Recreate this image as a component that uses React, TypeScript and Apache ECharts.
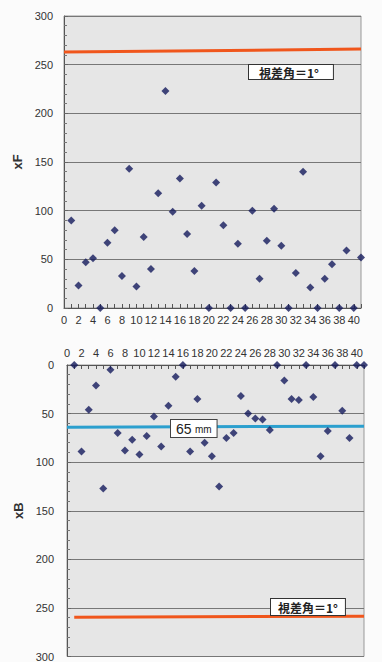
import React, { useEffect, useRef } from 'react';
import * as echarts from 'echarts';

const sampleNo = [1, 2, 3, 4, 5, 6, 7, 8, 9, 10, 11, 12, 13, 14, 15, 16, 17, 18, 19, 20, 21, 22, 23, 24, 25, 26, 27, 28, 29, 30, 31, 32, 33, 34, 35, 36, 37, 38, 39, 40, 41];
const xF = [90, 23, 47, 51, 0, 67, 80, 33, 143, 22, 73, 40, 118, 223, 99, 133, 76, 38, 105, 0, 129, 85, 0, 66, 0, 100, 30, 69, 102, 64, 0, 36, 140, 21, 0, 30, 45, 0, 59, 0, 52];
const xB = [0, 89, 46, 21, 127, 5, 70, 88, 77, 92, 73, 53, 84, 42, 12, 0, 89, 35, 80, 94, 125, 75, 70, 32, 50, 55, 56, 67, 0, 16, 35, 36, 0, 33, 94, 68, 0, 47, 75, 0, 0];
const parallaxLineF = [[0, 263], [41, 266]];
const parallaxLineB = [[1, 259.5], [41, 258.5]];
const mmLineB = [[0, 64], [41, 63]];
const parallaxLabel = '視差角＝1°';
const mmValue = '65';
const mmUnit = 'mm';

const FONT = '"Liberation Sans", Arial, sans-serif';
const CJK = '"Noto Sans CJK JP", sans-serif';

export default function App() {
  const ref = useRef<HTMLDivElement>(null);
  useEffect(() => {
    if (!ref.current) return;
    const chart = echarts.init(ref.current, undefined, { renderer: 'svg' });
    const xAxisBase = (gridIndex: number, position: 'top' | 'bottom') => ({
      type: 'value' as const,
      gridIndex,
      position,
      min: 0,
      max: 41,
      interval: 2,
      axisLine: { show: true, onZero: false, lineStyle: { color: '#555', width: 1 } },
      axisTick: { show: true, inside: true, length: 4, lineStyle: { color: '#555' } },
      minorTick: { show: true, splitNumber: 2, length: 4, lineStyle: { color: '#555' } },
      splitLine: { show: false },
      axisLabel: {
        color: '#333',
        fontFamily: FONT,
        fontSize: 11,
        margin: position === 'top' ? 7 : 6,
        showMaxLabel: false,
        formatter: (v: number) => (v % 2 === 0 ? String(v) : ''),
      },
    });
    const yAxisBase = (gridIndex: number, name: string, inverse: boolean, nameGap: number, margin: number) => ({
      type: 'value' as const,
      gridIndex,
      inverse,
      min: 0,
      max: 300,
      interval: 50,
      name,
      nameLocation: 'middle' as const,
      nameGap,
      nameRotate: 90,
      nameTextStyle: { color: '#333', fontFamily: FONT, fontSize: 13, fontWeight: 'bold' as const },
      axisLine: { show: true, lineStyle: { color: '#555', width: 1 } },
      axisTick: { show: true, inside: true, length: 4, lineStyle: { color: '#666' } },
      minorTick: { show: true, splitNumber: 5, length: 3, lineStyle: { color: '#777' } },
      splitLine: { show: true, lineStyle: { color: '#777', width: 1 } },
      axisLabel: { color: '#333', fontFamily: FONT, fontSize: 11, margin },
    });
    const scatterStyle = {
      type: 'scatter' as const,
      symbol: 'diamond',
      symbolSize: 8,
      clip: false,
      itemStyle: { color: '#141a5c' },
      z: 5,
    };
    const refLine = (xi: number, data: number[][], color: string) => ({
      type: 'line' as const,
      xAxisIndex: xi,
      yAxisIndex: xi,
      data,
      symbol: 'none',
      lineStyle: { color, width: 3 },
      z: 4,
    });
    chart.setOption({
      animation: false,
      backgroundColor: '#fbfbfb',
      grid: [
        { left: 64, top: 16, width: 297, height: 292, show: true, backgroundColor: '#e6e6e6', borderColor: '#999', borderWidth: 1 },
        { left: 67, top: 365, width: 297, height: 294, show: true, backgroundColor: '#e6e6e6', borderColor: '#999', borderWidth: 1 },
      ],
      xAxis: [xAxisBase(0, 'bottom'), xAxisBase(1, 'top')],
      yAxis: [yAxisBase(0, 'xF', false, 32, 11), yAxisBase(1, 'xB', true, 40, 13)],
      series: [
        refLine(0, parallaxLineF, '#f0561c'),
        refLine(1, parallaxLineB, '#f0561c'),
        refLine(1, mmLineB, '#2b9fce'),
        { ...scatterStyle, xAxisIndex: 0, yAxisIndex: 0, data: sampleNo.map((n, i) => [n, xF[i]]) },
        { ...scatterStyle, xAxisIndex: 1, yAxisIndex: 1, data: sampleNo.map((n, i) => [n, xB[i]]) },
      ],
      graphic: [
        {
          type: 'text',
          left: 248,
          top: 64,
          z: 10,
          style: {
            text: parallaxLabel,
            fill: '#222',
            font: `bold 12px ${CJK}`,
            lineHeight: 14,
            backgroundColor: '#fff',
            borderColor: '#333',
            borderWidth: 1,
            padding: [0, 14, 0, 10],
          },
        },
        {
          type: 'text',
          left: 270,
          top: 598,
          z: 10,
          style: {
            text: parallaxLabel,
            fill: '#222',
            font: `bold 12px ${CJK}`,
            lineHeight: 16,
            backgroundColor: '#fff',
            borderColor: '#333',
            borderWidth: 1,
            padding: [0, 7, 0, 7],
          },
        },
        {
          type: 'text',
          left: 170,
          top: 419,
          z: 10,
          style: {
            text: `{a|${mmValue}} {b|${mmUnit}}`,
            backgroundColor: '#fff',
            borderColor: '#444',
            borderWidth: 1,
            padding: [1, 5, 0, 5],
            rich: {
              a: { fontFamily: FONT, fontSize: 14, fill: '#222', lineHeight: 16 },
              b: { fontFamily: FONT, fontSize: 10, fill: '#222', lineHeight: 16 },
            },
          },
        },
      ],
    });
    return () => chart.dispose();
  }, []);
  return <div ref={ref} style={{ position: 'fixed', left: 0, top: 0, width: 382, height: 662 }} />;
}
